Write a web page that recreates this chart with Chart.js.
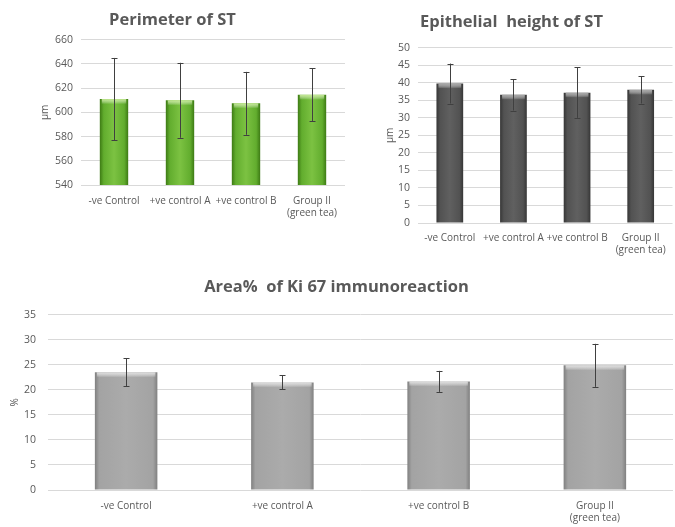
<!DOCTYPE html>
<html>
<head>
<meta charset="utf-8">
<script src="https://cdn.jsdelivr.net/npm/chart.js@4"></script>
<style>
  html, body { margin: 0; padding: 0; background: #ffffff; }
  body { width: 675px; height: 527px; position: relative; overflow: hidden; }
  .box { position: absolute; }
  #b1 { left: 0; top: 0; width: 350px; height: 230px; }
  #b2 { left: 350px; top: 0; width: 325px; height: 265px; }
  #b3 { left: 0; top: 265px; width: 675px; height: 262px; }
</style>
</head>
<body>
<div class="box" id="b1"><canvas id="c1"></canvas></div>
<div class="box" id="b2"><canvas id="c2"></canvas></div>
<div class="box" id="b3"><canvas id="c3"></canvas></div>
<script>
// ---- data ----
const categories = ['-ve Control', '+ve control A', '+ve control B', ['Group II', '(green tea)']];

const perimeterMeans = [611, 610, 607.5, 614.5];
const perimeterErrors = [34, 31, 26, 22];

const epitheliumMeans = [39.8, 36.6, 37.2, 38.0];
const epitheliumErrors = [5.7, 4.5, 7.2, 3.9];

const ki67Means = [23.5, 21.5, 21.7, 24.9];
const ki67Errors = [2.8, 1.4, 2.1, 4.3];

const perimeterTicks = { min: 540, max: 660, step: 20 };
const epitheliumTicks = { min: 0, max: 50, step: 5 };
const ki67Ticks = { min: 0, max: 35, step: 5 };

// ---- styling helpers ----
const TXT = '#595959';
const FONT = "'Open Sans', 'Liberation Sans', sans-serif";

const barStylePlugin = {
  id: 'barStyle',
  beforeDatasetsDraw(chart) {
    const pal = chart.options.plugins.barStyle;
    const ctx = chart.ctx;
    chart.getDatasetMeta(0).data.forEach(bar => {
      const l = bar.x - bar.width / 2, r = bar.x + bar.width / 2;
      const g = ctx.createLinearGradient(l, 0, r, 0);
      g.addColorStop(0, pal.edge);
      g.addColorStop(pal.edgeW, pal.mid);
      g.addColorStop(0.5, pal.center);
      g.addColorStop(1 - pal.edgeW, pal.mid);
      g.addColorStop(1, pal.edge);
      bar.options.backgroundColor = g;
    });
  },
  afterDatasetsDraw(chart) {
    const pal = chart.options.plugins.barStyle;
    const ctx = chart.ctx;
    const ys = chart.scales.y;
    const errs = pal.errors;
    const meta = chart.getDatasetMeta(0);
    ctx.save();
    // top bevel highlight
    meta.data.forEach(bar => {
      const l = bar.x - bar.width / 2;
      const g = ctx.createLinearGradient(0, bar.y, 0, bar.y + 5);
      g.addColorStop(0, pal.bevel);
      g.addColorStop(1, 'rgba(255,255,255,0)');
      ctx.fillStyle = g;
      ctx.fillRect(l + 2, bar.y, bar.width - 4, 5);
    });
    // error bars
    ctx.strokeStyle = pal.errColor;
    ctx.lineWidth = 1;
    meta.data.forEach((bar, i) => {
      const v = chart.data.datasets[0].data[i];
      const yt = ys.getPixelForValue(v + errs[i]);
      const yb = ys.getPixelForValue(v - errs[i]);
      const x = Math.round(bar.x) + 0.5;
      const cw = pal.cap;
      ctx.beginPath();
      ctx.moveTo(x, yt); ctx.lineTo(x, yb);
      ctx.moveTo(x - cw, Math.round(yt) + 0.5); ctx.lineTo(x + cw, Math.round(yt) + 0.5);
      ctx.moveTo(x - cw, Math.round(yb) + 0.5); ctx.lineTo(x + cw, Math.round(yb) + 0.5);
      ctx.stroke();
    });
    ctx.restore();
  }
};

function makeChart(id, cfg) {
  return new Chart(document.getElementById(id), {
    type: 'bar',
    data: {
      labels: categories,
      datasets: [{
        data: cfg.values,
        // scriptable so each bar gets its own options object (gradient set per bar)
        backgroundColor: () => cfg.palette.center,
        borderWidth: 0,
        barPercentage: cfg.barPct,
        categoryPercentage: 1
      }]
    },
    plugins: [barStylePlugin],
    options: {
      responsive: true,
      maintainAspectRatio: false,
      animation: false,
      events: [],
      layout: { padding: cfg.padding },
      plugins: {
        legend: { display: false },
        tooltip: { enabled: false },
        title: {
          display: true,
          text: cfg.title,
          color: TXT,
          font: { family: FONT, size: cfg.titleSize, weight: 'bold' },
          padding: cfg.titlePad
        },
        barStyle: Object.assign({ errors: cfg.errors, errColor: '#404040', cap: cfg.cap }, cfg.palette)
      },
      scales: {
        x: {
          grid: { display: false, drawTicks: false },
          border: { display: false },
          ticks: { color: TXT, font: { family: FONT, size: 10 }, padding: cfg.xPad, maxRotation: 0, autoSkip: false },
          afterFit(s) { s.height = cfg.xHeight; }
        },
        y: {
          min: cfg.ticks.min,
          max: cfg.ticks.max,
          grid: { color: '#d9d9d9', lineWidth: 1, drawTicks: false },
          border: { display: false },
          ticks: { stepSize: cfg.ticks.step, color: TXT, font: { family: FONT, size: 10.5 }, padding: cfg.yPad },
          title: { display: true, text: cfg.yTitle, color: TXT, font: { family: FONT, size: 10 }, padding: cfg.yTitlePad },
          afterFit(s) { s.width = cfg.yWidth; }
        }
      }
    }
  });
}

makeChart('c1', {
  title: 'Perimeter of ST', titleSize: 16.5, titlePad: { top: 10, bottom: 10 },
  values: perimeterMeans, errors: perimeterErrors, ticks: perimeterTicks,
  yTitle: 'μm', yTitlePad: { top: 39, bottom: 0 }, yWidth: 81, yPad: 8,
  xHeight: 45, xPad: 10, padding: { left: 0, right: 5, top: 0, bottom: 0 },
  barPct: 0.43, cap: 3,
  palette: { edge: '#3d7a14', mid: '#62ad2e', center: '#7cc242', edgeW: 0.14, bevel: 'rgba(200,235,150,0.95)' }
});

makeChart('c2', {
  title: 'Epithelial  height of ST', titleSize: 16.5, titlePad: { top: 12, bottom: 16 },
  values: epitheliumMeans, errors: epitheliumErrors, ticks: epitheliumTicks,
  yTitle: 'μm', yTitlePad: { top: 34, bottom: 0 }, yWidth: 68, yPad: 8,
  xHeight: 42, xPad: 9, padding: { left: 0, right: 2, top: 0, bottom: 0 },
  barPct: 0.42, cap: 3,
  palette: { edge: '#363636', mid: '#525252', center: '#606060', edgeW: 0.14, bevel: 'rgba(170,170,170,0.95)' }
});

makeChart('c3', {
  title: 'Area%  of Ki 67 immunoreaction', titleSize: 16.5, titlePad: { top: 12, bottom: 18 },
  values: ki67Means, errors: ki67Errors, ticks: ki67Ticks,
  yTitle: '%', yTitlePad: { top: 9, bottom: 0 }, yWidth: 48, yPad: 12,
  xHeight: 37, xPad: 10, padding: { left: 0, right: 2, top: 0, bottom: 0 },
  barPct: 0.40, cap: 3,
  palette: { edge: '#808080', mid: '#a3a3a3', center: '#ababab', edgeW: 0.07, bevel: 'rgba(225,225,225,0.95)' }
});
</script>
</body>
</html>
